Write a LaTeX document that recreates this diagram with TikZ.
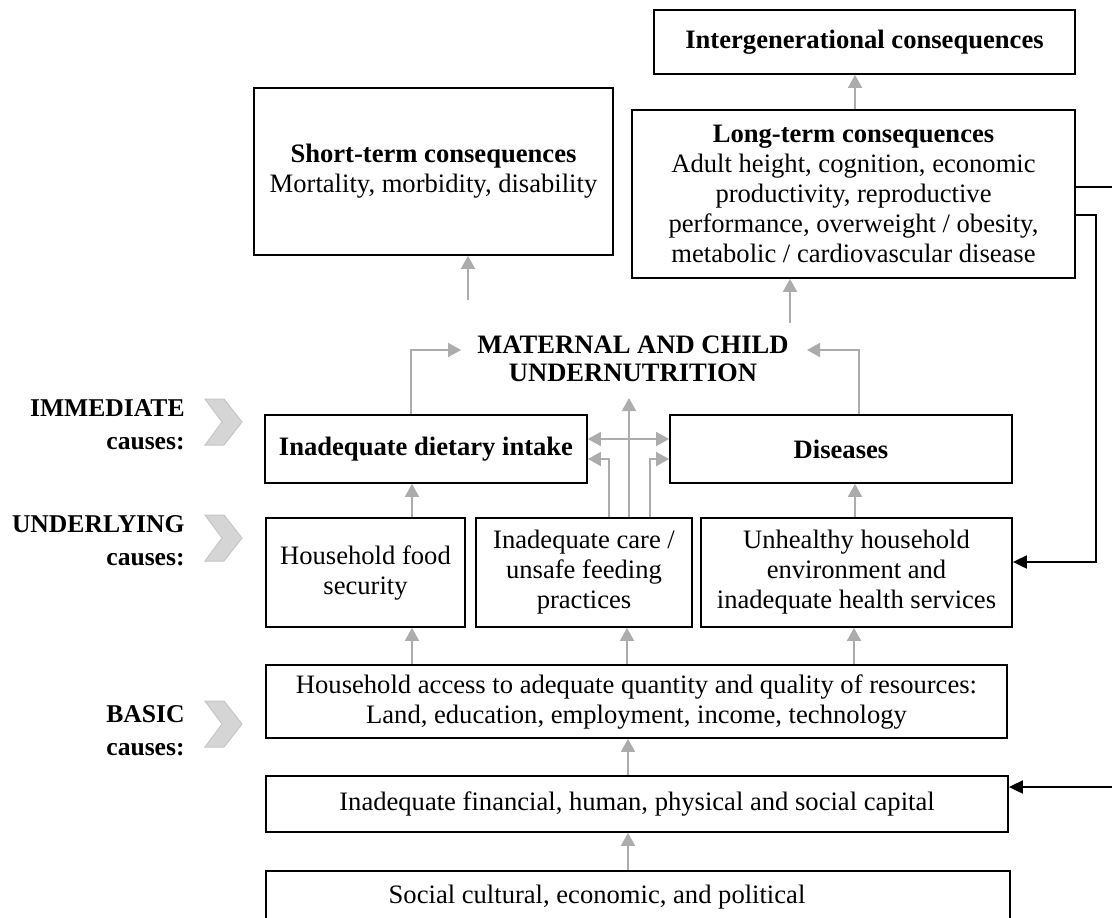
\documentclass[tikz,border=0pt]{standalone}
\usepackage{fontspec}
\setmainfont{Liberation Serif}
\usetikzlibrary{arrows.meta}
\begin{document}
\begin{tikzpicture}[x=0.5pt,y=-0.5pt,
  box/.style={draw=black, line width=0.9pt, fill=white, align=center, inner sep=0pt,
    font=\fontsize{13.3}{15}\selectfont},
  bbox/.style={box, font=\fontsize{13.3}{15}\selectfont\bfseries},
  ttl/.style={align=center, inner sep=0pt, font=\fontsize{13.3}{14}\selectfont\bfseries},
  lbl/.style={align=right, anchor=east, inner sep=0pt, font=\fontsize{12.8}{16.5}\selectfont\bfseries},
  garrow/.style={draw=gray!65, line width=1pt, -{Triangle[length=6.5pt,width=7pt]}},
  gdouble/.style={draw=gray!65, line width=1pt, {Triangle[length=6.5pt,width=7pt]}-{Triangle[length=6.5pt,width=7pt]}},
  bline/.style={draw=black, line width=1pt},
  barrow/.style={draw=black, line width=1pt, -{Triangle[length=7pt,width=6.5pt]}},
  chev/.style={fill=gray!33, draw=gray!45, line width=0.5pt, line join=miter}
]
\useasboundingbox (0,0) rectangle (1112,917);
\clip (0,0) rectangle (1112,917);

% consequence boxes
\node[bbox, minimum width=210.5pt, minimum height=32pt] (intergen) at (864.5,42) {Intergenerational consequences};
\node[box, minimum width=221.5pt, minimum height=84pt] (longterm) at (853.5,194)
  {\textbf{Long-term consequences}\\Adult height, cognition, economic\\productivity, reproductive\\performance, overweight / obesity,\\metabolic / cardiovascular disease};
\node[box, minimum width=179.5pt, minimum height=83.5pt] (shortterm) at (433.5,171.5)
  {\textbf{Short-term consequences}\\Mortality, morbidity, disability};

% title
\node[ttl] (title) at (633,359) {MATERNAL AND CHILD\\UNDERNUTRITION};

% immediate
\node[bbox, minimum width=161pt, minimum height=34pt] (dietary) at (426,449) {Inadequate dietary intake};
\node[bbox, minimum width=171pt, minimum height=34pt] (diseases) at (841,449) {Diseases};

% underlying
\node[box, minimum width=99.5pt, minimum height=54.5pt] (food) at (365.5,572.5) {Household food\\security};
\node[box, minimum width=108pt, minimum height=54.5pt] (care) at (584,572.5) {Inadequate care /\\unsafe feeding\\practices};
\node[box, minimum width=155.5pt, minimum height=54.5pt] (unhealthy) at (856.5,572.5) {Unhealthy household\\environment and\\inadequate health services};

% basic
\node[box, minimum width=370.5pt, minimum height=36.5pt] (access) at (636.5,701.5)
  {Household access to adequate quantity and quality of resources:\\Land, education, employment, income, technology};
\node[box, minimum width=371pt, minimum height=28pt] (financial) at (637,804)
  {Inadequate financial, human, physical and social capital};
\node[box, minimum width=372pt, minimum height=50pt, anchor=north] (social) at (638,870) {};
\node[inner sep=0pt, font=\fontsize{13.3}{15}\selectfont] (socialtext) at (597,897) {Social cultural, economic, and political};

% left labels
\node[lbl] (limm) at (185,425) {IMMEDIATE\\causes:};
\node[lbl] (lund) at (185,541) {UNDERLYING\\causes:};
\node[lbl] (lbas) at (185,731) {BASIC\\causes:};

% chevrons
\foreach \cy in {422, 538, 724}{
  \draw[chev] (205,\cy-23) -- (224,\cy-23) -- (242,\cy) -- (224,\cy+23) -- (205,\cy+23) -- (222,\cy) -- cycle;
}

% helper coordinates
\coordinate (x411) at (411,0);
\coordinate (x412) at (412,0);
\coordinate (x609) at (609,0);
\coordinate (x627) at (627,0);
\coordinate (x628) at (628,0);
\coordinate (x629) at (629,0);
\coordinate (x650) at (650,0);
\coordinate (x854) at (854,0);
\coordinate (x855) at (855,0);
\coordinate (x859) at (859,0);
\coordinate (y439) at (0,439);
\coordinate (y459) at (0,459);
\coordinate (ltin) at (790,323);
\coordinate (stin) at (468,300);
\coordinate (tl) at (461,350);
\coordinate (tr) at (807,350);
\coordinate (tc) at (629,398);
\coordinate (y187) at (0,187);
\coordinate (rc1) at (1096,215);
\coordinate (rc2) at (1096,562);
\coordinate (r1) at (1120,187);
\coordinate (r2) at (1120,787);

% gray arrows
\draw[garrow] (longterm.north -| x855) -- (intergen.south -| x855);
\draw[garrow] (ltin) -- (longterm.south -| ltin);
\draw[garrow] (stin) -- (shortterm.south -| stin);
\draw[garrow] (dietary.north -| x411) |- (tl);
\draw[garrow] (diseases.north -| x859) |- (tr);
\draw[garrow] (care.north -| x629) -- (tc);
\draw[gdouble] (dietary.east |- y439) -- (diseases.west |- y439);
\draw[garrow] (care.north -| x609) |- (dietary.east |- y459);
\draw[garrow] (care.north -| x650) |- (diseases.west |- y459);
\draw[garrow] (food.north -| x412) -- (dietary.south -| x412);
\draw[garrow] (unhealthy.north -| x855) -- (diseases.south -| x855);
\draw[garrow] (access.north -| x412) -- (food.south -| x412);
\draw[garrow] (access.north -| x627) -- (care.south -| x627);
\draw[garrow] (access.north -| x854) -- (unhealthy.south -| x854);
\draw[garrow] (financial.north -| x628) -- (access.south -| x628);
\draw[garrow] (social.north -| x628) -- (financial.south -| x628);

% black connectors
\draw[bline] (longterm.east |- y187) -- (r1);
\draw[barrow] (longterm.east |- rc1) -- (rc1) -- (rc2) -- (unhealthy.east |- rc2);
\draw[barrow] (r2) -- (financial.east |- r2);
\end{tikzpicture}
\end{document}
